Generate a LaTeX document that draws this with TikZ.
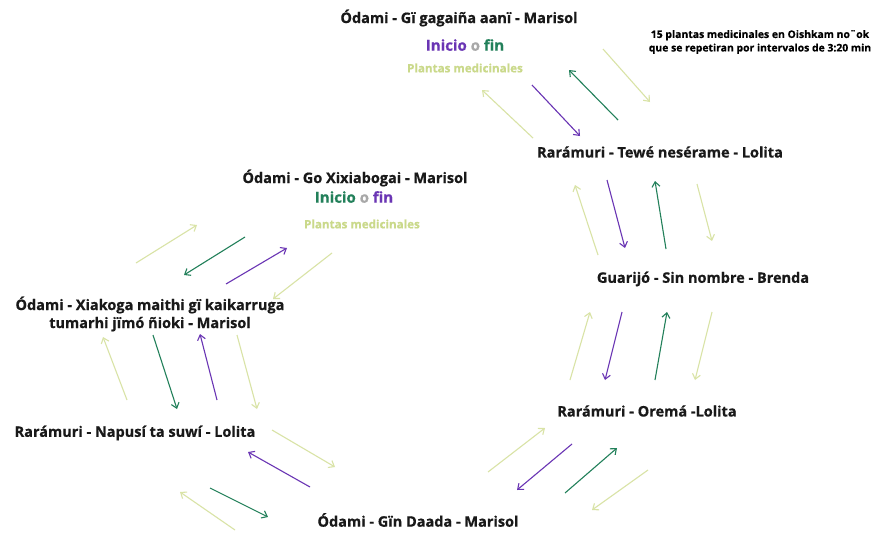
\documentclass[tikz,border=0pt]{standalone}
\usepackage{fontspec}
\setmainfont{Open Sans}[BoldFeatures={FakeBold=0.6}]
\usetikzlibrary{arrows.meta}
\definecolor{vio}{HTML}{6A35B4}
\definecolor{grn}{HTML}{22805A}
\definecolor{lite}{HTML}{D9E3A6}
\definecolor{litetxt}{HTML}{CAD98A}
\definecolor{midgrey}{HTML}{A8A8A8}
\tikzset{
  plant/.style={font=\bfseries\fontsize{14.5}{18}\selectfont, text=black!90, inner sep=1pt},
  startend/.style={font=\bfseries\fontsize{15}{18}\selectfont, inner sep=1pt},
  sub/.style={font=\bfseries\fontsize{11.6}{14}\selectfont, text=litetxt, inner sep=1pt},
  note/.style={font=\bfseries\fontsize{10.4}{13.5}\selectfont, align=center, inner sep=1pt},
  arr/.style={line width=1.1pt, -{Straight Barb[length=5pt,width=8pt]}},
  la/.style={arr, draw=lite},
  pa/.style={arr, draw=vio},
  ga/.style={arr, draw=grn},
}
\begin{document}
\begin{tikzpicture}[x=1pt,y=-1pt]
\useasboundingbox (0,0) rectangle (873,533);
\fill[white] (0,0) rectangle (873,533);

% labels of the stations
\node[plant] (gaga) at (459,18) {Ódami - Gï gagaiña aanï - Marisol};
\node[startend] (gagaio) at (465,45) {\textcolor{vio}{Inicio} \textcolor{midgrey}{o} \textcolor{grn}{fin}};
\node[sub] (gagapm) at (465,68) {Plantas medicinales};
\node[note] (info) at (760,42) {15 plantas medicinales en Oishkam no¨ok\\que se repetiran por intervalos de 3:20 min};
\node[plant] (tewe) at (660,152) {Rarámuri - Tewé nesérame - Lolita};
\node[plant] (guar) at (703,279) {Guarijó - Sin nombre - Brenda};
\node[plant] (orem) at (647,411) {Rarámuri - Oremá -Lolita};
\node[plant] (daada) at (418,520) {Ódami - Gïn Daada - Marisol};
\node[plant] (napu) at (135,433) {Rarámuri - Napusí ta suwí - Lolita};
\node[plant, align=center] (xiak) at (150,314) {Ódami - Xiakoga maithi gï kaikarruga\\tumarhi jïmó ñioki - Marisol};
\node[plant] (xixi) at (355,178) {Ódami - Go Xixiabogai - Marisol};
\node[startend] (xixiio) at (354,197) {\textcolor{grn}{Inicio} \textcolor{midgrey}{o} \textcolor{vio}{fin}};
\node[sub] (xixipm) at (362,224) {Plantas medicinales};

% Gï gagaiña -- Tewé
\draw[la] (533,138) coordinate (a1) -- (482,90) coordinate (b1);
\draw[pa] (532,85) coordinate (a2) -- (580,136) coordinate (b2);
\draw[ga] (618,120) coordinate (a3) -- (569,70) coordinate (b3);
\draw[la] (603,49) coordinate (a4) -- (650,102) coordinate (b4);

% Tewé -- Guarijó
\draw[la] (598,255) coordinate (a5) -- (575,185) coordinate (b5);
\draw[pa] (607,180) coordinate (a6) -- (625,248) coordinate (b6);
\draw[ga] (666,249) coordinate (a7) -- (655,181) coordinate (b7);
\draw[la] (697,184) coordinate (a8) -- (712,241) coordinate (b8);

% Guarijó -- Oremá
\draw[la] (570,380) coordinate (a9) -- (590,312) coordinate (b9);
\draw[pa] (622,312) coordinate (a10) -- (605,380) coordinate (b10);
\draw[ga] (655,380) coordinate (a11) -- (667,312) coordinate (b11);
\draw[la] (712,312) coordinate (a12) -- (695,380) coordinate (b12);

% Oremá -- Gïn Daada
\draw[la] (488,472) coordinate (a13) -- (545,428) coordinate (b13);
\draw[pa] (572,444) coordinate (a14) -- (517,490) coordinate (b14);
\draw[ga] (565,493) coordinate (a15) -- (617,448) coordinate (b15);
\draw[la] (648,470) coordinate (a16) -- (592,510) coordinate (b16);

% Gïn Daada -- Napusí
\draw[la] (272,430) coordinate (a17) -- (335,467) coordinate (b17);
\draw[pa] (310,487) coordinate (a18) -- (248,452) coordinate (b18);
\draw[ga] (210,488) coordinate (a19) -- (268,517) coordinate (b19);
\draw[la] (235,530) coordinate (a20) -- (180,492) coordinate (b20);

% Napusí -- Xiakoga
\draw[la] (127,400) coordinate (a21) -- (103,337) coordinate (b21);
\draw[ga] (153,335) coordinate (a22) -- (177,409) coordinate (b22);
\draw[pa] (217,400) coordinate (a23) -- (200,334) coordinate (b23);
\draw[la] (237,335) coordinate (a24) -- (257,409) coordinate (b24);

% Xiakoga -- Go Xixiabogai
\draw[la] (136,263) coordinate (a25) -- (197,225) coordinate (b25);
\draw[ga] (245,237) coordinate (a26) -- (184,275) coordinate (b26);
\draw[pa] (226,284) coordinate (a27) -- (287,248) coordinate (b27);
\draw[la] (332,253) coordinate (a28) -- (273,299) coordinate (b28);
\end{tikzpicture}
\end{document}
